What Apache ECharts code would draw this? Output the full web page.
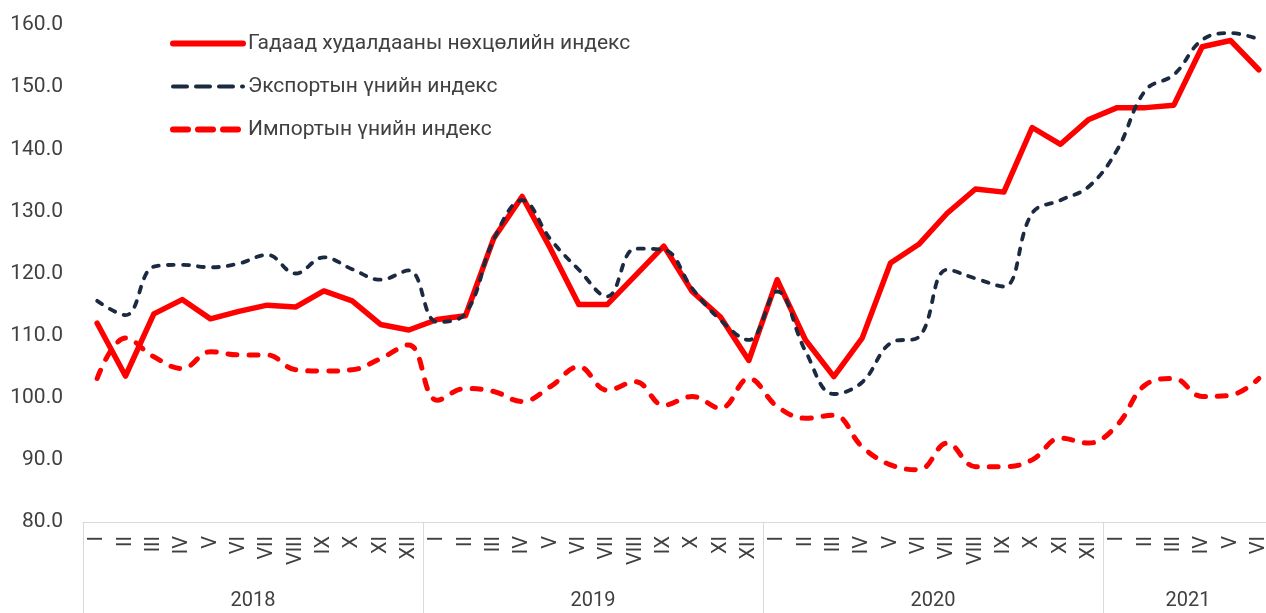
<!DOCTYPE html>
<html>
<head>
<meta charset="utf-8">
<script src="https://cdn.jsdelivr.net/npm/echarts@6/dist/echarts.min.js"></script>
<style>
html,body{margin:0;padding:0;background:#fff;overflow:hidden;width:1266px;height:613px;}
#chart{width:1273px;height:613px;}
</style>
</head>
<body>
<div id="chart"></div>
<script>
// ---- data ----
const monthLabels = ['I','II','III','IV','V','VI','VII','VIII','IX','X','XI','XII'];
const years = ['2018','2019','2020','2021'];
const monthsInYear = [12, 12, 12, 6];
const yTicks = [80, 90, 100, 110, 120, 130, 140, 150, 160];

const seriesNames = [
  'Гадаад худалдааны нөхцөлийн индекс',
  'Экспортын үнийн индекс',
  'Импортын үнийн индекс'
];

const totIndex = [
  112.0, 103.5, 113.5, 115.8, 112.7, 113.9, 114.9, 114.6, 117.2, 115.6, 111.8, 110.9,
  112.6, 113.2, 125.7, 132.4, 124.0, 115.0, 115.0, 119.7, 124.4, 117.1, 113.0, 106.0,
  119.0, 109.3, 103.4, 109.6, 121.7, 124.7, 129.7, 133.6, 133.1, 143.5, 140.8, 144.8,
  146.7, 146.7, 147.1, 156.5, 157.5, 152.8
];
const exportIndex = [
  115.6, 113.3, 121.1, 121.4, 121.0, 121.6, 123.0, 120.0, 122.6, 120.7, 119.0, 120.5,
  112.2, 113.6, 125.5, 131.8, 125.5, 120.6, 116.3, 124.0, 123.8, 117.6, 112.5, 109.3,
  117.1, 107.5, 100.6, 102.5, 108.8, 109.8, 120.6, 119.2, 117.9, 129.7, 131.8, 134.0,
  139.9, 149.5, 152.0, 157.6, 158.7, 157.7
];
const importIndex = [
  103.1, 109.6, 106.6, 104.7, 107.4, 106.9, 106.9, 104.5, 104.3, 104.5, 106.3, 108.5,
  99.6, 101.5, 101.0, 99.4, 101.8, 105.0, 101.2, 102.6, 98.8, 100.2, 98.3, 103.1,
  98.6, 96.7, 97.2, 92.1, 89.2, 88.4, 92.7, 88.9, 88.9, 90.0, 93.5, 92.7,
  95.6, 102.1, 103.1, 100.2, 100.4, 103.1
];

// ---- derived ----
const categories = [];
monthsInYear.forEach((n, yi) => { for (let m = 0; m < n; m++) categories.push(years[yi] + '-' + monthLabels[m]); });
const total = categories.length;
const yearStarts = [];
const yearCenters = [];
let acc = 0;
monthsInYear.forEach(n => { yearStarts.push(acc); yearCenters.push(acc + n / 2); acc += n; });
yearStarts.push(acc);

const textColor = '#404040';
const font = 'Roboto, "Noto Sans", sans-serif';
const red = '#ff0000';
const navy = '#1b2a41';

const chart = echarts.init(document.getElementById('chart'), null, {renderer: 'canvas'});
chart.setOption({
  backgroundColor: '#ffffff',
  animation: false,
  grid: { left: 83, right: 0, top: 25, bottom: 91, containLabel: false },
  legend: {
    orient: 'vertical',
    left: 165,
    top: 28,
    itemWidth: 70,
    itemHeight: 14,
    itemGap: 22,
    textStyle: { fontFamily: font, fontSize: 21, color: textColor },
    itemStyle: { opacity: 0 },
    data: [
      { name: seriesNames[0], itemStyle: { opacity: 0 }, lineStyle: { width: 6, type: 'solid', cap: 'round' } },
      { name: seriesNames[1], itemStyle: { opacity: 0 }, lineStyle: { width: 4, type: [14, 9], cap: 'round' } },
      { name: seriesNames[2], itemStyle: { opacity: 0 }, lineStyle: { width: 6, type: [15, 10], cap: 'round' } }
    ]
  },
  xAxis: [
    {
      type: 'category',
      data: categories,
      boundaryGap: true,
      axisLine: { show: true, lineStyle: { color: '#d9d9d9', width: 1 } },
      axisTick: { show: false },
      axisLabel: {
        interval: 0,
        rotate: 90,
        margin: 14,
        fontFamily: font,
        fontSize: 20,
        color: textColor,
        formatter: v => v.split('-')[1]
      }
    },
    {
      type: 'value',
      position: 'bottom',
      min: 0,
      max: total,
      axisLine: { show: false },
      splitLine: { show: false },
      axisTick: {
        show: true,
        inside: false,
        length: 91,
        customValues: yearStarts,
        lineStyle: { color: '#d9d9d9', width: 1 }
      },
      axisLabel: {
        show: true,
        margin: 69,
        customValues: yearCenters,
        fontFamily: font,
        fontSize: 20,
        color: textColor,
        formatter: v => { const i = yearCenters.indexOf(v); return i >= 0 ? years[i] : ''; }
      }
    }
  ],
  yAxis: {
    type: 'value',
    min: yTicks[0],
    max: yTicks[yTicks.length - 1],
    interval: 10,
    axisLine: { show: false },
    axisTick: { show: false },
    splitLine: { show: false },
    axisLabel: {
      margin: 20,
      fontFamily: font,
      fontSize: 21,
      color: textColor,
      formatter: v => v.toFixed(1)
    }
  },
  series: [
    {
      name: seriesNames[0],
      type: 'line',
      xAxisIndex: 0,
      data: totIndex,
      symbol: 'none',
      smooth: false,
      z: 3,
      lineStyle: { color: red, width: 5.5, cap: 'round', join: 'round' },
      itemStyle: { color: red }
    },
    {
      name: seriesNames[1],
      type: 'line',
      xAxisIndex: 0,
      data: exportIndex,
      symbol: 'none',
      smooth: 0.4,
      z: 4,
      lineStyle: { color: navy, width: 3.8, type: [6, 9], cap: 'round', join: 'round' },
      itemStyle: { color: navy }
    },
    {
      name: seriesNames[2],
      type: 'line',
      xAxisIndex: 0,
      data: importIndex,
      symbol: 'none',
      smooth: 0.4,
      z: 2,
      lineStyle: { color: red, width: 5, type: [9, 12], cap: 'round', join: 'round' },
      itemStyle: { color: red }
    }
  ]
});
</script>
</body>
</html>
